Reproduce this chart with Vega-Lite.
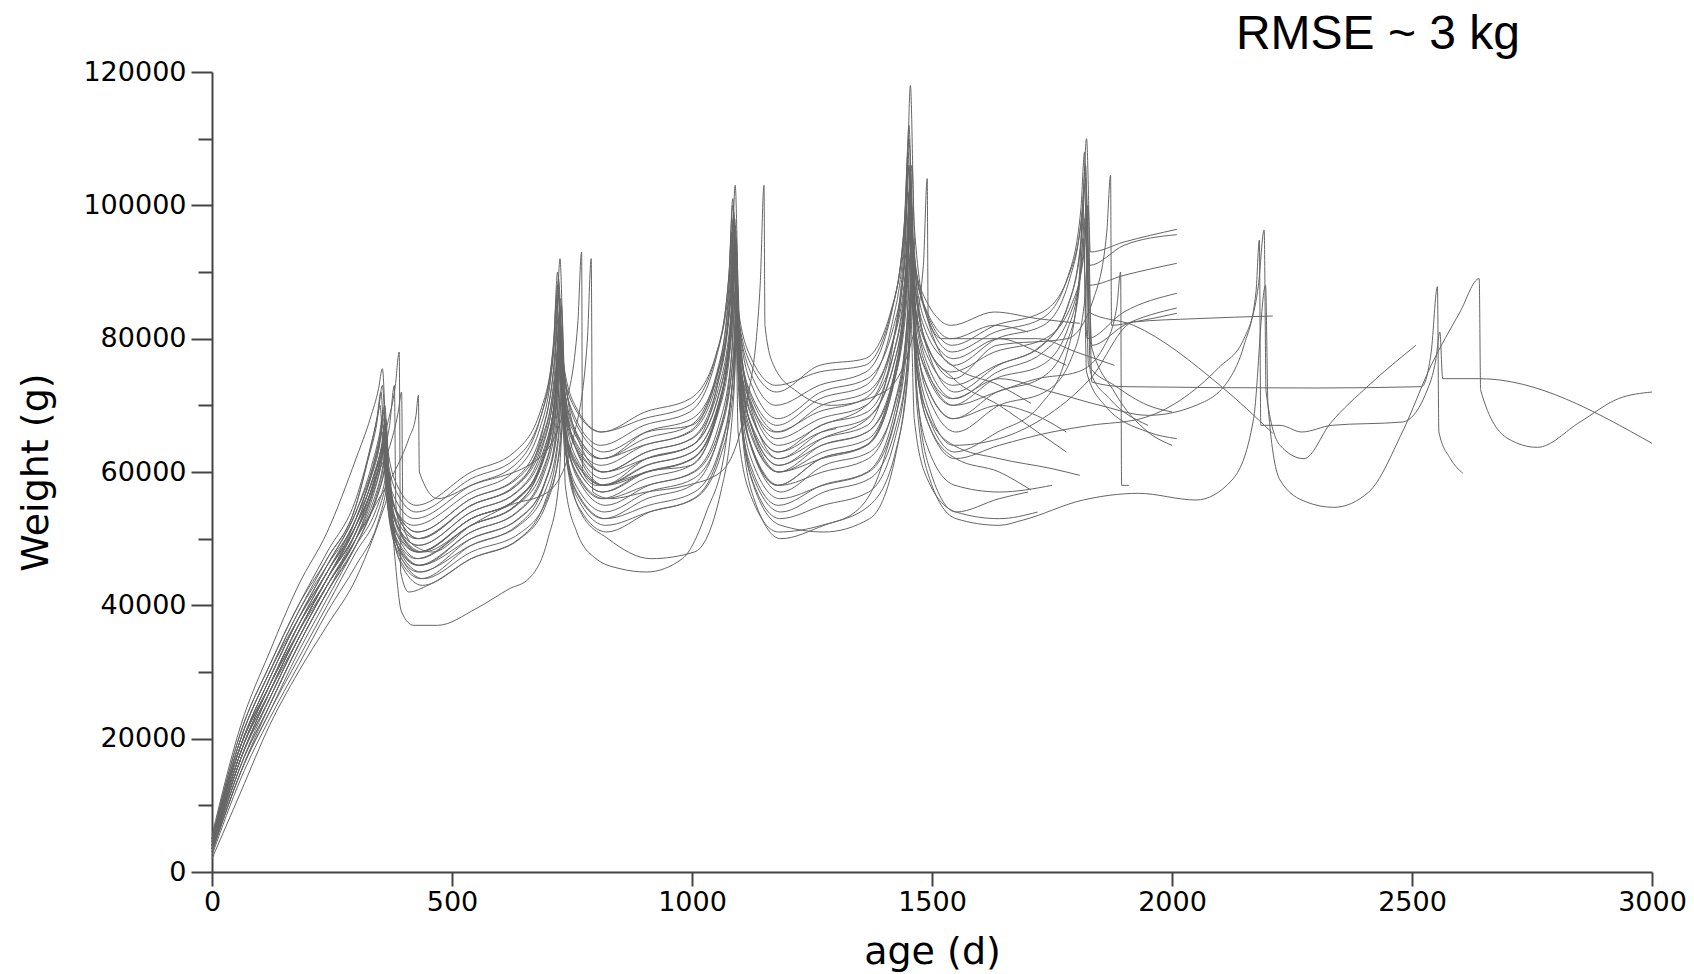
{
"$schema": "https://vega.github.io/schema/vega-lite/v6.json",
"width": 1440, "height": 800,
"autosize": {"type": "none"},
"padding": {"left": 212, "top": 72, "right": 42, "bottom": 102},
"background": "white",
"title": {"text": "RMSE ~ 3 kg", "anchor": "end", "frame": "group", "font": "Liberation Sans", "fontSize": 48, "fontWeight": "normal", "color": "black", "baseline": "bottom", "offset": 8, "dx": -132, "dy": 57},
"config": {"view": {"stroke": null}},
"data": {"values": [
{"id":1,"age":0,"weight":5500},{"id":1,"age":60,"weight":22000},{"id":1,"age":120,"weight":33000},{"id":1,"age":180,"weight":43000},{"id":1,"age":240,"weight":51000},{"id":1,"age":300,"weight":62000},{"id":1,"age":330,"weight":68100},{"id":1,"age":347,"weight":72500},{"id":1,"age":355,"weight":75500},{"id":1,"age":363,"weight":65300},{"id":1,"age":385,"weight":58100},{"id":1,"age":425,"weight":55000},{"id":1,"age":540,"weight":60000},{"id":1,"age":630,"weight":63000},{"id":1,"age":685,"weight":69300},{"id":1,"age":712,"weight":79300},{"id":1,"age":720,"weight":88000},{"id":1,"age":728,"weight":77000},{"id":1,"age":755,"weight":69700},{"id":1,"age":810,"weight":66000},{"id":1,"age":900,"weight":68000},{"id":1,"age":995,"weight":70000},{"id":1,"age":1050,"weight":77500},{"id":1,"age":1077,"weight":89500},{"id":1,"age":1085,"weight":100000},{"id":1,"age":1093,"weight":86500},{"id":1,"age":1120,"weight":77600},{"id":1,"age":1175,"weight":73000},{"id":1,"age":1265,"weight":75000},{"id":1,"age":1360,"weight":76000},{"id":1,"age":1415,"weight":84000},{"id":1,"age":1442,"weight":96800},{"id":1,"age":1450,"weight":108000},{"id":1,"age":1458,"weight":94000},{"id":1,"age":1485,"weight":84800},{"id":1,"age":1540,"weight":80000},{"id":1,"age":1630,"weight":82000},{"id":1,"age":1700,"weight":81000},
{"id":2,"age":0,"weight":4000},{"id":2,"age":60,"weight":18000},{"id":2,"age":120,"weight":28000},{"id":2,"age":180,"weight":37000},{"id":2,"age":240,"weight":44000},{"id":2,"age":300,"weight":53000},{"id":2,"age":335,"weight":60700},{"id":2,"age":352,"weight":66300},{"id":2,"age":360,"weight":70000},{"id":2,"age":368,"weight":60000},{"id":2,"age":390,"weight":53000},{"id":2,"age":430,"weight":50000},{"id":2,"age":540,"weight":55000},{"id":2,"age":635,"weight":58000},{"id":2,"age":690,"weight":66500},{"id":2,"age":717,"weight":80100},{"id":2,"age":725,"weight":92000},{"id":2,"age":733,"weight":76000},{"id":2,"age":760,"weight":65400},{"id":2,"age":815,"weight":60000},{"id":2,"age":905,"weight":62000},{"id":2,"age":1000,"weight":64000},{"id":2,"age":1055,"weight":73800},{"id":2,"age":1082,"weight":89400},{"id":2,"age":1090,"weight":103000},{"id":2,"age":1098,"weight":82500},{"id":2,"age":1125,"weight":69000},{"id":2,"age":1180,"weight":62000},{"id":2,"age":1270,"weight":65000},{"id":2,"age":1365,"weight":67000},{"id":2,"age":1420,"weight":79800},{"id":2,"age":1447,"weight":100200},{"id":2,"age":1455,"weight":118000},{"id":2,"age":1463,"weight":97000},{"id":2,"age":1490,"weight":83100},{"id":2,"age":1545,"weight":76000},{"id":2,"age":1635,"weight":80000},{"id":2,"age":1732,"weight":82000},{"id":2,"age":1787,"weight":89000},{"id":2,"age":1814,"weight":100200},{"id":2,"age":1822,"weight":110000},{"id":2,"age":1830,"weight":93000},{"id":2,"age":1900,"weight":94500},{"id":2,"age":2010,"weight":96400},
{"id":3,"age":0,"weight":3500},{"id":3,"age":60,"weight":17000},{"id":3,"age":120,"weight":26000},{"id":3,"age":180,"weight":35000},{"id":3,"age":240,"weight":43000},{"id":3,"age":300,"weight":51000},{"id":3,"age":337,"weight":58700},{"id":3,"age":354,"weight":64300},{"id":3,"age":362,"weight":68000},{"id":3,"age":370,"weight":58000},{"id":3,"age":392,"weight":51000},{"id":3,"age":432,"weight":48000},{"id":3,"age":540,"weight":53000},{"id":3,"age":638,"weight":56000},{"id":3,"age":693,"weight":63300},{"id":3,"age":720,"weight":74900},{"id":3,"age":728,"weight":85000},{"id":3,"age":736,"weight":71500},{"id":3,"age":763,"weight":62600},{"id":3,"age":818,"weight":58000},{"id":3,"age":908,"weight":60000},{"id":3,"age":1002,"weight":62000},{"id":3,"age":1057,"weight":70300},{"id":3,"age":1084,"weight":83500},{"id":3,"age":1092,"weight":95000},{"id":3,"age":1100,"weight":77500},{"id":3,"age":1127,"weight":66000},{"id":3,"age":1182,"weight":60000},{"id":3,"age":1272,"weight":63000},{"id":3,"age":1368,"weight":65000},{"id":3,"age":1423,"weight":75300},{"id":3,"age":1450,"weight":91700},{"id":3,"age":1458,"weight":106000},{"id":3,"age":1466,"weight":89000},{"id":3,"age":1493,"weight":77800},{"id":3,"age":1548,"weight":72000},{"id":3,"age":1638,"weight":76000},{"id":3,"age":1730,"weight":79000},{"id":3,"age":1785,"weight":85300},{"id":3,"age":1812,"weight":95300},{"id":3,"age":1820,"weight":104000},{"id":3,"age":1828,"weight":91000},{"id":3,"age":1900,"weight":94000},{"id":3,"age":2010,"weight":95600},
{"id":4,"age":0,"weight":4500},{"id":4,"age":60,"weight":19000},{"id":4,"age":120,"weight":29000},{"id":4,"age":180,"weight":38000},{"id":4,"age":240,"weight":45000},{"id":4,"age":300,"weight":53000},{"id":4,"age":330,"weight":58900},{"id":4,"age":347,"weight":63100},{"id":4,"age":355,"weight":66000},{"id":4,"age":363,"weight":56500},{"id":4,"age":385,"weight":49900},{"id":4,"age":425,"weight":47000},{"id":4,"age":540,"weight":52000},{"id":4,"age":632,"weight":55000},{"id":4,"age":687,"weight":61300},{"id":4,"age":714,"weight":71300},{"id":4,"age":722,"weight":80000},{"id":4,"age":730,"weight":68000},{"id":4,"age":757,"weight":60100},{"id":4,"age":812,"weight":56000},{"id":4,"age":902,"weight":59000},{"id":4,"age":998,"weight":61000},{"id":4,"age":1053,"weight":68800},{"id":4,"age":1080,"weight":81200},{"id":4,"age":1088,"weight":92000},{"id":4,"age":1096,"weight":75000},{"id":4,"age":1123,"weight":63800},{"id":4,"age":1178,"weight":58000},{"id":4,"age":1268,"weight":62000},{"id":4,"age":1362,"weight":64000},{"id":4,"age":1417,"weight":73000},{"id":4,"age":1444,"weight":87400},{"id":4,"age":1452,"weight":100000},{"id":4,"age":1460,"weight":85000},{"id":4,"age":1487,"weight":75100},{"id":4,"age":1542,"weight":70000},{"id":4,"age":1632,"weight":74000},{"id":4,"age":1728,"weight":76000},{"id":4,"age":1783,"weight":81500},{"id":4,"age":1810,"weight":90300},{"id":4,"age":1818,"weight":98000},{"id":4,"age":1826,"weight":88000},{"id":4,"age":1900,"weight":89500},{"id":4,"age":2010,"weight":91300},
{"id":5,"age":0,"weight":5000},{"id":5,"age":60,"weight":20000},{"id":5,"age":120,"weight":30000},{"id":5,"age":180,"weight":38000},{"id":5,"age":240,"weight":45000},{"id":5,"age":300,"weight":52000},{"id":5,"age":333,"weight":57400},{"id":5,"age":350,"weight":61400},{"id":5,"age":358,"weight":64000},{"id":5,"age":366,"weight":55000},{"id":5,"age":388,"weight":48700},{"id":5,"age":428,"weight":46000},{"id":5,"age":540,"weight":51000},{"id":5,"age":635,"weight":54000},{"id":5,"age":690,"weight":60000},{"id":5,"age":717,"weight":69600},{"id":5,"age":725,"weight":78000},{"id":5,"age":733,"weight":67500},{"id":5,"age":760,"weight":60600},{"id":5,"age":815,"weight":57000},{"id":5,"age":905,"weight":60000},{"id":5,"age":1000,"weight":62000},{"id":5,"age":1055,"weight":69000},{"id":5,"age":1082,"weight":80200},{"id":5,"age":1090,"weight":90000},{"id":5,"age":1098,"weight":75000},{"id":5,"age":1125,"weight":65100},{"id":5,"age":1180,"weight":60000},{"id":5,"age":1270,"weight":64000},{"id":5,"age":1365,"weight":66000},{"id":5,"age":1420,"weight":73500},{"id":5,"age":1447,"weight":85500},{"id":5,"age":1455,"weight":96000},{"id":5,"age":1463,"weight":82000},{"id":5,"age":1490,"weight":72800},{"id":5,"age":1545,"weight":68000},{"id":5,"age":1635,"weight":72000},{"id":5,"age":1725,"weight":74000},{"id":5,"age":1780,"weight":79300},{"id":5,"age":1807,"weight":87700},{"id":5,"age":1815,"weight":95000},{"id":5,"age":1823,"weight":80000},{"id":5,"age":1900,"weight":84000},{"id":5,"age":2010,"weight":86800},
{"id":6,"age":0,"weight":3000},{"id":6,"age":60,"weight":16000},{"id":6,"age":120,"weight":25000},{"id":6,"age":180,"weight":34000},{"id":6,"age":240,"weight":42000},{"id":6,"age":300,"weight":50000},{"id":6,"age":340,"weight":55400},{"id":6,"age":357,"weight":59400},{"id":6,"age":365,"weight":62000},{"id":6,"age":373,"weight":53500},{"id":6,"age":395,"weight":47600},{"id":6,"age":435,"weight":45000},{"id":6,"age":540,"weight":50000},{"id":6,"age":640,"weight":53000},{"id":6,"age":695,"weight":58800},{"id":6,"age":722,"weight":68000},{"id":6,"age":730,"weight":76000},{"id":6,"age":738,"weight":65500},{"id":6,"age":765,"weight":58600},{"id":6,"age":820,"weight":55000},{"id":6,"age":910,"weight":58000},{"id":6,"age":1005,"weight":60000},{"id":6,"age":1060,"weight":67000},{"id":6,"age":1087,"weight":78200},{"id":6,"age":1095,"weight":88000},{"id":6,"age":1103,"weight":72500},{"id":6,"age":1130,"weight":62300},{"id":6,"age":1185,"weight":57000},{"id":6,"age":1275,"weight":61000},{"id":6,"age":1370,"weight":63000},{"id":6,"age":1425,"weight":70800},{"id":6,"age":1452,"weight":83200},{"id":6,"age":1460,"weight":94000},{"id":6,"age":1468,"weight":80000},{"id":6,"age":1495,"weight":70800},{"id":6,"age":1550,"weight":66000},{"id":6,"age":1640,"weight":70000},{"id":6,"age":1735,"weight":72000},{"id":6,"age":1790,"weight":77000},{"id":6,"age":1817,"weight":85000},{"id":6,"age":1825,"weight":92000},{"id":6,"age":1833,"weight":79000},{"id":6,"age":1900,"weight":82000},{"id":6,"age":2010,"weight":84600},
{"id":7,"age":0,"weight":4000},{"id":7,"age":60,"weight":18000},{"id":7,"age":120,"weight":27000},{"id":7,"age":180,"weight":36000},{"id":7,"age":240,"weight":44000},{"id":7,"age":300,"weight":52000},{"id":7,"age":335,"weight":57900},{"id":7,"age":352,"weight":62100},{"id":7,"age":360,"weight":65000},{"id":7,"age":368,"weight":57000},{"id":7,"age":390,"weight":51400},{"id":7,"age":430,"weight":49000},{"id":7,"age":540,"weight":54000},{"id":7,"age":636,"weight":57000},{"id":7,"age":691,"weight":63300},{"id":7,"age":718,"weight":73300},{"id":7,"age":726,"weight":82000},{"id":7,"age":734,"weight":71000},{"id":7,"age":761,"weight":63700},{"id":7,"age":816,"weight":60000},{"id":7,"age":906,"weight":63000},{"id":7,"age":998,"weight":65000},{"id":7,"age":1053,"weight":73000},{"id":7,"age":1080,"weight":85800},{"id":7,"age":1088,"weight":97000},{"id":7,"age":1096,"weight":80000},{"id":7,"age":1123,"weight":68800},{"id":7,"age":1178,"weight":63000},{"id":7,"age":1268,"weight":67000},{"id":7,"age":1365,"weight":69000},{"id":7,"age":1420,"weight":77800},{"id":7,"age":1447,"weight":91800},{"id":7,"age":1455,"weight":104000},{"id":7,"age":1463,"weight":89000},{"id":7,"age":1490,"weight":79100},{"id":7,"age":1545,"weight":74000},{"id":7,"age":1635,"weight":79000},{"id":7,"age":1782,"weight":80000},{"id":7,"age":1837,"weight":86100},{"id":7,"age":1864,"weight":95900},{"id":7,"age":1872,"weight":104500},{"id":7,"age":1874,"weight":82000},{"id":7,"age":1920,"weight":82500},{"id":7,"age":2010,"weight":83800},
{"id":8,"age":0,"weight":2500},{"id":8,"age":60,"weight":14000},{"id":8,"age":120,"weight":23000},{"id":8,"age":180,"weight":31000},{"id":8,"age":240,"weight":39000},{"id":8,"age":300,"weight":46000},{"id":8,"age":345,"weight":52300},{"id":8,"age":362,"weight":56900},{"id":8,"age":370,"weight":60000},{"id":8,"age":378,"weight":52000},{"id":8,"age":400,"weight":46400},{"id":8,"age":440,"weight":44000},{"id":8,"age":540,"weight":48000},{"id":8,"age":645,"weight":51000},{"id":8,"age":700,"weight":56300},{"id":8,"age":727,"weight":64700},{"id":8,"age":735,"weight":72000},{"id":8,"age":743,"weight":61000},{"id":8,"age":770,"weight":53700},{"id":8,"age":825,"weight":50000},{"id":8,"age":915,"weight":47000},{"id":8,"age":1005,"weight":48000},{"id":8,"age":1060,"weight":57000},{"id":8,"age":1087,"weight":71400},{"id":8,"age":1095,"weight":84000},{"id":8,"age":1103,"weight":67000},{"id":8,"age":1130,"weight":55800},{"id":8,"age":1185,"weight":50000},{"id":8,"age":1275,"weight":52000},{"id":8,"age":1370,"weight":55000},{"id":8,"age":1425,"weight":63300},{"id":8,"age":1452,"weight":76500},{"id":8,"age":1460,"weight":88000},{"id":8,"age":1468,"weight":70500},{"id":8,"age":1495,"weight":59000},{"id":8,"age":1550,"weight":53000},{"id":8,"age":1640,"weight":52000},{"id":8,"age":1690,"weight":52800},{"id":8,"age":1815,"weight":55800},{"id":8,"age":1930,"weight":56800},{"id":8,"age":2050,"weight":55800},{"id":8,"age":2125,"weight":58800},{"id":8,"age":2170,"weight":68000},{"id":8,"age":2195,"weight":88000},{"id":8,"age":2200,"weight":70000},{"id":8,"age":2225,"weight":58800},{"id":8,"age":2280,"weight":55500},{"id":8,"age":2337,"weight":54700},{"id":8,"age":2410,"weight":57000},{"id":8,"age":2480,"weight":66000},{"id":8,"age":2540,"weight":76000},{"id":8,"age":2600,"weight":84000},{"id":8,"age":2640,"weight":89000},{"id":8,"age":2643,"weight":72300},{"id":8,"age":2700,"weight":65000},{"id":8,"age":2761,"weight":63700},{"id":8,"age":2850,"weight":67500},{"id":8,"age":2930,"weight":71000},{"id":8,"age":3000,"weight":72000},
{"id":9,"age":0,"weight":4000},{"id":9,"age":60,"weight":17000},{"id":9,"age":120,"weight":27000},{"id":9,"age":180,"weight":36000},{"id":9,"age":240,"weight":44000},{"id":9,"age":300,"weight":51000},{"id":9,"age":333,"weight":56400},{"id":9,"age":350,"weight":60400},{"id":9,"age":358,"weight":63000},{"id":9,"age":366,"weight":55500},{"id":9,"age":388,"weight":50300},{"id":9,"age":428,"weight":48000},{"id":9,"age":540,"weight":53000},{"id":9,"age":634,"weight":56000},{"id":9,"age":689,"weight":61800},{"id":9,"age":716,"weight":71000},{"id":9,"age":724,"weight":79000},{"id":9,"age":732,"weight":68500},{"id":9,"age":759,"weight":61600},{"id":9,"age":814,"weight":58000},{"id":9,"age":904,"weight":61000},{"id":9,"age":1000,"weight":63000},{"id":9,"age":1055,"weight":70000},{"id":9,"age":1082,"weight":81200},{"id":9,"age":1090,"weight":91000},{"id":9,"age":1098,"weight":76500},{"id":9,"age":1125,"weight":66900},{"id":9,"age":1180,"weight":62000},{"id":9,"age":1270,"weight":66000},{"id":9,"age":1362,"weight":68000},{"id":9,"age":1417,"weight":75300},{"id":9,"age":1444,"weight":86900},{"id":9,"age":1452,"weight":97000},{"id":9,"age":1460,"weight":84000},{"id":9,"age":1487,"weight":75400},{"id":9,"age":1542,"weight":71000},{"id":9,"age":1640,"weight":74000},{"id":9,"age":1750,"weight":72000},{"id":9,"age":1850,"weight":70000},{"id":9,"age":1950,"weight":68500},{"id":9,"age":2050,"weight":70000},{"id":9,"age":2120,"weight":74000},{"id":9,"age":2150,"weight":79000},{"id":9,"age":2175,"weight":87000},{"id":9,"age":2182,"weight":94800},{"id":9,"age":2185,"weight":67000},{"id":9,"age":2225,"weight":67000},{"id":9,"age":2270,"weight":66000},{"id":9,"age":2333,"weight":67000},{"id":9,"age":2480,"weight":67500},{"id":9,"age":2530,"weight":72000},{"id":9,"age":2550,"weight":77000},{"id":9,"age":2558,"weight":81000},{"id":9,"age":2564,"weight":74000},{"id":9,"age":2640,"weight":74000},{"id":9,"age":3000,"weight":64300},
{"id":10,"age":0,"weight":5000},{"id":10,"age":60,"weight":21000},{"id":10,"age":120,"weight":31000},{"id":10,"age":180,"weight":40000},{"id":10,"age":240,"weight":47000},{"id":10,"age":300,"weight":55000},{"id":10,"age":325,"weight":61800},{"id":10,"age":342,"weight":66700},{"id":10,"age":350,"weight":70000},{"id":10,"age":358,"weight":61000},{"id":10,"age":380,"weight":54700},{"id":10,"age":420,"weight":52000},{"id":10,"age":540,"weight":57000},{"id":10,"age":628,"weight":60000},{"id":10,"age":683,"weight":66500},{"id":10,"age":710,"weight":76900},{"id":10,"age":718,"weight":86000},{"id":10,"age":726,"weight":74000},{"id":10,"age":753,"weight":66100},{"id":10,"age":808,"weight":62000},{"id":10,"age":898,"weight":64000},{"id":10,"age":993,"weight":66000},{"id":10,"age":1048,"weight":73500},{"id":10,"age":1075,"weight":85500},{"id":10,"age":1083,"weight":96000},{"id":10,"age":1091,"weight":81000},{"id":10,"age":1118,"weight":71100},{"id":10,"age":1173,"weight":66000},{"id":10,"age":1263,"weight":69000},{"id":10,"age":1360,"weight":71000},{"id":10,"age":1415,"weight":78800},{"id":10,"age":1442,"weight":91200},{"id":10,"age":1450,"weight":102000},{"id":10,"age":1458,"weight":88500},{"id":10,"age":1485,"weight":79600},{"id":10,"age":1540,"weight":75000},{"id":10,"age":1630,"weight":78000},{"id":10,"age":1735,"weight":80000},{"id":10,"age":1790,"weight":85000},{"id":10,"age":1817,"weight":93000},{"id":10,"age":1825,"weight":100000},{"id":10,"age":1833,"weight":73500},{"id":10,"age":1900,"weight":72800},{"id":10,"age":2300,"weight":72600},{"id":10,"age":2520,"weight":72800},{"id":10,"age":2540,"weight":78000},{"id":10,"age":2553,"weight":87800},{"id":10,"age":2556,"weight":66000},{"id":10,"age":2580,"weight":62000},{"id":10,"age":2606,"weight":59800},
{"id":11,"age":0,"weight":3500},{"id":11,"age":60,"weight":16000},{"id":11,"age":120,"weight":26000},{"id":11,"age":180,"weight":35000},{"id":11,"age":240,"weight":43000},{"id":11,"age":300,"weight":50000},{"id":11,"age":337,"weight":55000},{"id":11,"age":354,"weight":58600},{"id":11,"age":362,"weight":61000},{"id":11,"age":370,"weight":53500},{"id":11,"age":392,"weight":48300},{"id":11,"age":432,"weight":46000},{"id":11,"age":540,"weight":50000},{"id":11,"age":638,"weight":53000},{"id":11,"age":693,"weight":58300},{"id":11,"age":720,"weight":66700},{"id":11,"age":728,"weight":74000},{"id":11,"age":736,"weight":64000},{"id":11,"age":763,"weight":57400},{"id":11,"age":818,"weight":54000},{"id":11,"age":908,"weight":57000},{"id":11,"age":1003,"weight":59000},{"id":11,"age":1058,"weight":65800},{"id":11,"age":1085,"weight":76600},{"id":11,"age":1093,"weight":86000},{"id":11,"age":1101,"weight":71000},{"id":11,"age":1128,"weight":61100},{"id":11,"age":1183,"weight":56000},{"id":11,"age":1273,"weight":58000},{"id":11,"age":1368,"weight":60000},{"id":11,"age":1423,"weight":68000},{"id":11,"age":1450,"weight":80800},{"id":11,"age":1458,"weight":92000},{"id":11,"age":1466,"weight":77000},{"id":11,"age":1493,"weight":67100},{"id":11,"age":1548,"weight":62000},{"id":11,"age":1640,"weight":64000},{"id":11,"age":1750,"weight":66000},{"id":11,"age":1830,"weight":67000},{"id":11,"age":1935,"weight":68000},{"id":11,"age":2098,"weight":75700},{"id":11,"age":2150,"weight":80000},{"id":11,"age":2180,"weight":88000},{"id":11,"age":2192,"weight":96300},{"id":11,"age":2196,"weight":72000},{"id":11,"age":2225,"weight":64000},{"id":11,"age":2275,"weight":62000},{"id":11,"age":2330,"weight":67300},{"id":11,"age":2410,"weight":73000},{"id":11,"age":2508,"weight":79000},
{"id":12,"age":0,"weight":4000},{"id":12,"age":60,"weight":18000},{"id":12,"age":120,"weight":28000},{"id":12,"age":180,"weight":37000},{"id":12,"age":240,"weight":45000},{"id":12,"age":300,"weight":53000},{"id":12,"age":337,"weight":59300},{"id":12,"age":354,"weight":63900},{"id":12,"age":362,"weight":67000},{"id":12,"age":370,"weight":58500},{"id":12,"age":392,"weight":52600},{"id":12,"age":432,"weight":50000},{"id":12,"age":540,"weight":55000},{"id":12,"age":635,"weight":58000},{"id":12,"age":690,"weight":64500},{"id":12,"age":717,"weight":74900},{"id":12,"age":725,"weight":84000},{"id":12,"age":733,"weight":71500},{"id":12,"age":760,"weight":63300},{"id":12,"age":815,"weight":59000},{"id":12,"age":905,"weight":62000},{"id":12,"age":1000,"weight":64000},{"id":12,"age":1055,"weight":71500},{"id":12,"age":1082,"weight":83500},{"id":12,"age":1090,"weight":94000},{"id":12,"age":1098,"weight":77500},{"id":12,"age":1125,"weight":66600},{"id":12,"age":1180,"weight":61000},{"id":12,"age":1270,"weight":64000},{"id":12,"age":1365,"weight":66000},{"id":12,"age":1420,"weight":74300},{"id":12,"age":1447,"weight":87500},{"id":12,"age":1455,"weight":99000},{"id":12,"age":1463,"weight":81500},{"id":12,"age":1490,"weight":70000},{"id":12,"age":1545,"weight":64000},{"id":12,"age":1640,"weight":65000},{"id":12,"age":1730,"weight":68000},{"id":12,"age":1830,"weight":74000},{"id":12,"age":1920,"weight":82500},{"id":12,"age":2050,"weight":83000},{"id":12,"age":2210,"weight":83400},
{"id":13,"age":0,"weight":3000},{"id":13,"age":60,"weight":15000},{"id":13,"age":120,"weight":24000},{"id":13,"age":180,"weight":32000},{"id":13,"age":240,"weight":40000},{"id":13,"age":300,"weight":48000},{"id":13,"age":343,"weight":53400},{"id":13,"age":360,"weight":57400},{"id":13,"age":368,"weight":60000},{"id":13,"age":376,"weight":51500},{"id":13,"age":398,"weight":45600},{"id":13,"age":438,"weight":43000},{"id":13,"age":540,"weight":47000},{"id":13,"age":642,"weight":50000},{"id":13,"age":697,"weight":55300},{"id":13,"age":724,"weight":63700},{"id":13,"age":732,"weight":71000},{"id":13,"age":740,"weight":61000},{"id":13,"age":767,"weight":54400},{"id":13,"age":822,"weight":51000},{"id":13,"age":912,"weight":54000},{"id":13,"age":1005,"weight":56000},{"id":13,"age":1060,"weight":62500},{"id":13,"age":1087,"weight":72900},{"id":13,"age":1095,"weight":82000},{"id":13,"age":1103,"weight":68000},{"id":13,"age":1130,"weight":58800},{"id":13,"age":1185,"weight":54000},{"id":13,"age":1275,"weight":57000},{"id":13,"age":1370,"weight":59000},{"id":13,"age":1425,"weight":66800},{"id":13,"age":1452,"weight":79200},{"id":13,"age":1460,"weight":90000},{"id":13,"age":1468,"weight":76000},{"id":13,"age":1495,"weight":66800},{"id":13,"age":1550,"weight":62000},{"id":13,"age":1640,"weight":60000},{"id":13,"age":1706,"weight":57300},
{"id":14,"age":0,"weight":4500},{"id":14,"age":60,"weight":19000},{"id":14,"age":120,"weight":29000},{"id":14,"age":180,"weight":38000},{"id":14,"age":240,"weight":46000},{"id":14,"age":300,"weight":54000},{"id":14,"age":332,"weight":60800},{"id":14,"age":349,"weight":65700},{"id":14,"age":357,"weight":69000},{"id":14,"age":365,"weight":60000},{"id":14,"age":387,"weight":53700},{"id":14,"age":427,"weight":51000},{"id":14,"age":540,"weight":56000},{"id":14,"age":632,"weight":59000},{"id":14,"age":687,"weight":66000},{"id":14,"age":714,"weight":77200},{"id":14,"age":722,"weight":87000},{"id":14,"age":730,"weight":74500},{"id":14,"age":757,"weight":66300},{"id":14,"age":812,"weight":62000},{"id":14,"age":902,"weight":65000},{"id":14,"age":997,"weight":67000},{"id":14,"age":1052,"weight":75000},{"id":14,"age":1079,"weight":87800},{"id":14,"age":1087,"weight":99000},{"id":14,"age":1095,"weight":82000},{"id":14,"age":1122,"weight":70800},{"id":14,"age":1177,"weight":65000},{"id":14,"age":1267,"weight":68000},{"id":14,"age":1362,"weight":70000},{"id":14,"age":1417,"weight":79000},{"id":14,"age":1444,"weight":93400},{"id":14,"age":1452,"weight":106000},{"id":14,"age":1460,"weight":91000},{"id":14,"age":1487,"weight":81100},{"id":14,"age":1542,"weight":76000},{"id":14,"age":1640,"weight":73000},{"id":14,"age":1706,"weight":70300},
{"id":15,"age":0,"weight":5000},{"id":15,"age":60,"weight":19000},{"id":15,"age":120,"weight":28000},{"id":15,"age":180,"weight":36000},{"id":15,"age":240,"weight":43000},{"id":15,"age":300,"weight":50000},{"id":15,"age":335,"weight":55400},{"id":15,"age":352,"weight":59400},{"id":15,"age":360,"weight":62000},{"id":15,"age":368,"weight":53500},{"id":15,"age":390,"weight":47600},{"id":15,"age":430,"weight":45000},{"id":15,"age":540,"weight":49000},{"id":15,"age":636,"weight":52000},{"id":15,"age":691,"weight":57800},{"id":15,"age":718,"weight":67000},{"id":15,"age":726,"weight":75000},{"id":15,"age":734,"weight":64000},{"id":15,"age":761,"weight":56700},{"id":15,"age":816,"weight":53000},{"id":15,"age":906,"weight":56000},{"id":15,"age":1000,"weight":58000},{"id":15,"age":1055,"weight":65300},{"id":15,"age":1082,"weight":76900},{"id":15,"age":1090,"weight":87000},{"id":15,"age":1098,"weight":71000},{"id":15,"age":1125,"weight":60400},{"id":15,"age":1180,"weight":55000},{"id":15,"age":1270,"weight":58000},{"id":15,"age":1365,"weight":60000},{"id":15,"age":1420,"weight":68300},{"id":15,"age":1447,"weight":81500},{"id":15,"age":1455,"weight":93000},{"id":15,"age":1463,"weight":78500},{"id":15,"age":1490,"weight":68900},{"id":15,"age":1545,"weight":64000},{"id":15,"age":1640,"weight":62000},{"id":15,"age":1750,"weight":60500},{"id":15,"age":1808,"weight":59500},
{"id":16,"age":0,"weight":4000},{"id":16,"age":60,"weight":17000},{"id":16,"age":120,"weight":27000},{"id":16,"age":180,"weight":36000},{"id":16,"age":240,"weight":44000},{"id":16,"age":300,"weight":52000},{"id":16,"age":330,"weight":58000},{"id":16,"age":365,"weight":67000},{"id":16,"age":382,"weight":73000},{"id":16,"age":390,"weight":78000},{"id":16,"age":393,"weight":45000},{"id":16,"age":410,"weight":42000},{"id":16,"age":450,"weight":43000},{"id":16,"age":540,"weight":47000},{"id":16,"age":640,"weight":50000},{"id":16,"age":695,"weight":55800},{"id":16,"age":722,"weight":65000},{"id":16,"age":730,"weight":73000},{"id":16,"age":738,"weight":62500},{"id":16,"age":765,"weight":55600},{"id":16,"age":820,"weight":52000},{"id":16,"age":910,"weight":54000},{"id":16,"age":1003,"weight":56000},{"id":16,"age":1058,"weight":63000},{"id":16,"age":1085,"weight":74200},{"id":16,"age":1093,"weight":84000},{"id":16,"age":1101,"weight":68500},{"id":16,"age":1128,"weight":58300},{"id":16,"age":1183,"weight":53000},{"id":16,"age":1273,"weight":55000},{"id":16,"age":1368,"weight":57000},{"id":16,"age":1423,"weight":65000},{"id":16,"age":1450,"weight":77800},{"id":16,"age":1458,"weight":89000},{"id":16,"age":1466,"weight":73500},{"id":16,"age":1493,"weight":63300},{"id":16,"age":1548,"weight":58000},{"id":16,"age":1640,"weight":57000},{"id":16,"age":1750,"weight":58000},
{"id":17,"age":0,"weight":3000},{"id":17,"age":60,"weight":15000},{"id":17,"age":120,"weight":24000},{"id":17,"age":180,"weight":33000},{"id":17,"age":240,"weight":41000},{"id":17,"age":300,"weight":49000},{"id":17,"age":340,"weight":55000},{"id":17,"age":380,"weight":60000},{"id":17,"age":410,"weight":65000},{"id":17,"age":425,"weight":68500},{"id":17,"age":430,"weight":71500},{"id":17,"age":432,"weight":60000},{"id":17,"age":470,"weight":56000},{"id":17,"age":540,"weight":58000},{"id":17,"age":680,"weight":62000},{"id":17,"age":735,"weight":69800},{"id":17,"age":762,"weight":82200},{"id":17,"age":770,"weight":93000},{"id":17,"age":772,"weight":60000},{"id":17,"age":800,"weight":58000},{"id":17,"age":905,"weight":60000},{"id":17,"age":1000,"weight":62000},{"id":17,"age":1055,"weight":69800},{"id":17,"age":1082,"weight":82200},{"id":17,"age":1090,"weight":93000},{"id":17,"age":1098,"weight":76500},{"id":17,"age":1125,"weight":65600},{"id":17,"age":1180,"weight":60000},{"id":17,"age":1270,"weight":62000},{"id":17,"age":1365,"weight":64000},{"id":17,"age":1420,"weight":73300},{"id":17,"age":1447,"weight":88000},{"id":17,"age":1455,"weight":101000},{"id":17,"age":1463,"weight":85500},{"id":17,"age":1490,"weight":75300},{"id":17,"age":1545,"weight":70000},{"id":17,"age":1635,"weight":72000},{"id":17,"age":1720,"weight":74000},{"id":17,"age":1803,"weight":75000},{"id":17,"age":1858,"weight":78800},{"id":17,"age":1885,"weight":84800},{"id":17,"age":1893,"weight":90000},{"id":17,"age":1895,"weight":58000},{"id":17,"age":1910,"weight":58000},
{"id":18,"age":0,"weight":4000},{"id":18,"age":60,"weight":18000},{"id":18,"age":120,"weight":28000},{"id":18,"age":180,"weight":36000},{"id":18,"age":240,"weight":44000},{"id":18,"age":300,"weight":51000},{"id":18,"age":340,"weight":59000},{"id":18,"age":375,"weight":65000},{"id":18,"age":388,"weight":69000},{"id":18,"age":395,"weight":72000},{"id":18,"age":398,"weight":52000},{"id":18,"age":420,"weight":49000},{"id":18,"age":460,"weight":48000},{"id":18,"age":540,"weight":52000},{"id":18,"age":620,"weight":55000},{"id":18,"age":700,"weight":57000},{"id":18,"age":755,"weight":65800},{"id":18,"age":782,"weight":79800},{"id":18,"age":790,"weight":92000},{"id":18,"age":793,"weight":57000},{"id":18,"age":830,"weight":56000},{"id":18,"age":905,"weight":57000},{"id":18,"age":990,"weight":58000},{"id":18,"age":1060,"weight":60000},{"id":18,"age":1115,"weight":70800},{"id":18,"age":1142,"weight":88000},{"id":18,"age":1150,"weight":103000},{"id":18,"age":1152,"weight":82000},{"id":18,"age":1170,"weight":76000},{"id":18,"age":1220,"weight":72000},{"id":18,"age":1290,"weight":70000},{"id":18,"age":1400,"weight":72000},{"id":18,"age":1455,"weight":79000},{"id":18,"age":1482,"weight":91000},{"id":18,"age":1490,"weight":104000},{"id":18,"age":1492,"weight":83000},{"id":18,"age":1520,"weight":80000},{"id":18,"age":1620,"weight":80000},{"id":18,"age":1720,"weight":80000},{"id":18,"age":1800,"weight":78000},{"id":18,"age":1880,"weight":76000},
{"id":19,"age":0,"weight":2000},{"id":19,"age":60,"weight":12000},{"id":19,"age":120,"weight":22000},{"id":19,"age":180,"weight":30000},{"id":19,"age":240,"weight":37000},{"id":19,"age":300,"weight":44000},{"id":19,"age":335,"weight":50000},{"id":19,"age":360,"weight":55000},{"id":19,"age":370,"weight":57000},{"id":19,"age":380,"weight":48000},{"id":19,"age":395,"weight":39000},{"id":19,"age":420,"weight":37000},{"id":19,"age":470,"weight":37000},{"id":19,"age":550,"weight":39500},{"id":19,"age":620,"weight":42500},{"id":19,"age":660,"weight":44000},{"id":19,"age":700,"weight":50000},{"id":19,"age":722,"weight":58000},{"id":19,"age":732,"weight":68000},{"id":19,"age":736,"weight":58000},{"id":19,"age":760,"weight":51000},{"id":19,"age":800,"weight":47000},{"id":19,"age":850,"weight":45500},{"id":19,"age":905,"weight":45000},{"id":19,"age":980,"weight":47000},{"id":19,"age":1030,"weight":54000},{"id":19,"age":1070,"weight":64000},{"id":19,"age":1085,"weight":74000},{"id":19,"age":1092,"weight":80000},{"id":19,"age":1096,"weight":66000},{"id":19,"age":1125,"weight":56000},{"id":19,"age":1180,"weight":51000},{"id":19,"age":1270,"weight":52000},{"id":19,"age":1340,"weight":54000},{"id":19,"age":1400,"weight":62000},{"id":19,"age":1440,"weight":75000},{"id":19,"age":1455,"weight":85000},{"id":19,"age":1463,"weight":68000},{"id":19,"age":1490,"weight":59000},{"id":19,"age":1550,"weight":54000},{"id":19,"age":1640,"weight":53000},{"id":19,"age":1720,"weight":54000},
{"id":20,"age":0,"weight":5000},{"id":20,"age":60,"weight":20000},{"id":20,"age":120,"weight":30000},{"id":20,"age":180,"weight":39000},{"id":20,"age":240,"weight":47000},{"id":20,"age":300,"weight":55000},{"id":20,"age":327,"weight":62700},{"id":20,"age":344,"weight":68300},{"id":20,"age":352,"weight":72000},{"id":20,"age":360,"weight":62500},{"id":20,"age":382,"weight":55900},{"id":20,"age":422,"weight":53000},{"id":20,"age":540,"weight":58000},{"id":20,"age":630,"weight":61000},{"id":20,"age":685,"weight":68300},{"id":20,"age":712,"weight":79900},{"id":20,"age":720,"weight":90000},{"id":20,"age":728,"weight":77000},{"id":20,"age":755,"weight":68400},{"id":20,"age":810,"weight":64000},{"id":20,"age":900,"weight":67000},{"id":20,"age":995,"weight":69000},{"id":20,"age":1050,"weight":77000},{"id":20,"age":1077,"weight":89800},{"id":20,"age":1085,"weight":101000},{"id":20,"age":1093,"weight":85500},{"id":20,"age":1120,"weight":75300},{"id":20,"age":1175,"weight":70000},{"id":20,"age":1265,"weight":73000},{"id":20,"age":1362,"weight":75000},{"id":20,"age":1417,"weight":84300},{"id":20,"age":1444,"weight":99000},{"id":20,"age":1452,"weight":112000},{"id":20,"age":1460,"weight":95000},{"id":20,"age":1487,"weight":83800},{"id":20,"age":1542,"weight":78000},{"id":20,"age":1632,"weight":81000},{"id":20,"age":1728,"weight":83000},{"id":20,"age":1783,"weight":89300},{"id":20,"age":1810,"weight":99300},{"id":20,"age":1818,"weight":108000},{"id":20,"age":1826,"weight":84000},{"id":20,"age":1920,"weight":82000},{"id":20,"age":2100,"weight":73000},{"id":20,"age":2210,"weight":65800},
{"id":21,"age":0,"weight":3500},{"id":21,"age":60,"weight":16000},{"id":21,"age":120,"weight":25000},{"id":21,"age":180,"weight":34000},{"id":21,"age":240,"weight":42000},{"id":21,"age":300,"weight":49000},{"id":21,"age":338,"weight":55300},{"id":21,"age":355,"weight":59900},{"id":21,"age":363,"weight":63000},{"id":21,"age":371,"weight":54500},{"id":21,"age":393,"weight":48600},{"id":21,"age":433,"weight":46000},{"id":21,"age":540,"weight":51000},{"id":21,"age":637,"weight":54000},{"id":21,"age":692,"weight":59800},{"id":21,"age":719,"weight":69000},{"id":21,"age":727,"weight":77000},{"id":21,"age":735,"weight":66500},{"id":21,"age":762,"weight":59600},{"id":21,"age":817,"weight":56000},{"id":21,"age":907,"weight":58000},{"id":21,"age":1002,"weight":60000},{"id":21,"age":1057,"weight":67300},{"id":21,"age":1084,"weight":78900},{"id":21,"age":1092,"weight":89000},{"id":21,"age":1100,"weight":73500},{"id":21,"age":1127,"weight":63300},{"id":21,"age":1182,"weight":58000},{"id":21,"age":1272,"weight":60000},{"id":21,"age":1367,"weight":62000},{"id":21,"age":1422,"weight":70300},{"id":21,"age":1449,"weight":83500},{"id":21,"age":1457,"weight":95000},{"id":21,"age":1465,"weight":79000},{"id":21,"age":1492,"weight":68400},{"id":21,"age":1547,"weight":63000},{"id":21,"age":1637,"weight":66000},{"id":21,"age":1725,"weight":70000},{"id":21,"age":1780,"weight":77500},{"id":21,"age":1807,"weight":89500},{"id":21,"age":1815,"weight":100000},{"id":21,"age":1822,"weight":75000},{"id":21,"age":1860,"weight":70000},{"id":21,"age":1950,"weight":66000},{"id":21,"age":2010,"weight":65000},
{"id":22,"age":0,"weight":4000},{"id":22,"age":60,"weight":17000},{"id":22,"age":120,"weight":26000},{"id":22,"age":180,"weight":35000},{"id":22,"age":240,"weight":43000},{"id":22,"age":300,"weight":50000},{"id":22,"age":335,"weight":57200},{"id":22,"age":352,"weight":62500},{"id":22,"age":360,"weight":66000},{"id":22,"age":368,"weight":56500},{"id":22,"age":390,"weight":49900},{"id":22,"age":430,"weight":47000},{"id":22,"age":540,"weight":52000},{"id":22,"age":633,"weight":55000},{"id":22,"age":688,"weight":61500},{"id":22,"age":715,"weight":71900},{"id":22,"age":723,"weight":81000},{"id":22,"age":731,"weight":69000},{"id":22,"age":758,"weight":61100},{"id":22,"age":813,"weight":57000},{"id":22,"age":903,"weight":60000},{"id":22,"age":998,"weight":61000},{"id":22,"age":1053,"weight":69000},{"id":22,"age":1080,"weight":81800},{"id":22,"age":1088,"weight":93000},{"id":22,"age":1096,"weight":75500},{"id":22,"age":1123,"weight":64000},{"id":22,"age":1178,"weight":58000},{"id":22,"age":1268,"weight":62000},{"id":22,"age":1363,"weight":64000},{"id":22,"age":1418,"weight":72500},{"id":22,"age":1445,"weight":86100},{"id":22,"age":1453,"weight":98000},{"id":22,"age":1461,"weight":83000},{"id":22,"age":1488,"weight":73100},{"id":22,"age":1543,"weight":68000},{"id":22,"age":1640,"weight":70000},{"id":22,"age":1700,"weight":69000},{"id":22,"age":1780,"weight":66000},
{"id":23,"age":0,"weight":5000},{"id":23,"age":60,"weight":21000},{"id":23,"age":120,"weight":31000},{"id":23,"age":180,"weight":40000},{"id":23,"age":240,"weight":48000},{"id":23,"age":300,"weight":56000},{"id":23,"age":330,"weight":63700},{"id":23,"age":347,"weight":69300},{"id":23,"age":355,"weight":73000},{"id":23,"age":363,"weight":63500},{"id":23,"age":385,"weight":56900},{"id":23,"age":425,"weight":54000},{"id":23,"age":540,"weight":59000},{"id":23,"age":632,"weight":62000},{"id":23,"age":687,"weight":68800},{"id":23,"age":714,"weight":79600},{"id":23,"age":722,"weight":89000},{"id":23,"age":730,"weight":77500},{"id":23,"age":757,"weight":69900},{"id":23,"age":812,"weight":66000},{"id":23,"age":902,"weight":69000},{"id":23,"age":996,"weight":71000},{"id":23,"age":1051,"weight":77800},{"id":23,"age":1078,"weight":88600},{"id":23,"age":1086,"weight":98000},{"id":23,"age":1094,"weight":85000},{"id":23,"age":1121,"weight":76400},{"id":23,"age":1176,"weight":72000},{"id":23,"age":1266,"weight":76000},{"id":23,"age":1360,"weight":77000},{"id":23,"age":1415,"weight":84300},{"id":23,"age":1442,"weight":95900},{"id":23,"age":1450,"weight":106000},{"id":23,"age":1458,"weight":94000},{"id":23,"age":1485,"weight":86100},{"id":23,"age":1540,"weight":82000},{"id":23,"age":1630,"weight":84000},{"id":23,"age":1720,"weight":83000},{"id":23,"age":1808,"weight":82300},
{"id":24,"age":0,"weight":4000},{"id":24,"age":60,"weight":18000},{"id":24,"age":120,"weight":27000},{"id":24,"age":180,"weight":35000},{"id":24,"age":240,"weight":43000},{"id":24,"age":300,"weight":50000},{"id":24,"age":335,"weight":56300},{"id":24,"age":352,"weight":60900},{"id":24,"age":360,"weight":64000},{"id":24,"age":368,"weight":56000},{"id":24,"age":390,"weight":50400},{"id":24,"age":430,"weight":48000},{"id":24,"age":540,"weight":53000},{"id":24,"age":635,"weight":56000},{"id":24,"age":690,"weight":62000},{"id":24,"age":717,"weight":71600},{"id":24,"age":725,"weight":80000},{"id":24,"age":733,"weight":70000},{"id":24,"age":760,"weight":63400},{"id":24,"age":815,"weight":60000},{"id":24,"age":905,"weight":63000},{"id":24,"age":1000,"weight":65000},{"id":24,"age":1055,"weight":72500},{"id":24,"age":1082,"weight":84500},{"id":24,"age":1090,"weight":95000},{"id":24,"age":1098,"weight":80500},{"id":24,"age":1125,"weight":70900},{"id":24,"age":1180,"weight":66000},{"id":24,"age":1270,"weight":70000},{"id":24,"age":1365,"weight":72000},{"id":24,"age":1420,"weight":79800},{"id":24,"age":1447,"weight":92200},{"id":24,"age":1455,"weight":103000},{"id":24,"age":1463,"weight":88500},{"id":24,"age":1490,"weight":78900},{"id":24,"age":1545,"weight":74000},{"id":24,"age":1640,"weight":70000},{"id":24,"age":1720,"weight":66000},{"id":24,"age":1780,"weight":63000},
{"id":25,"age":0,"weight":3000},{"id":25,"age":60,"weight":15000},{"id":25,"age":120,"weight":25000},{"id":25,"age":180,"weight":34000},{"id":25,"age":240,"weight":42000},{"id":25,"age":300,"weight":49000},{"id":25,"age":340,"weight":54000},{"id":25,"age":357,"weight":57600},{"id":25,"age":365,"weight":60000},{"id":25,"age":373,"weight":52000},{"id":25,"age":395,"weight":46400},{"id":25,"age":435,"weight":44000},{"id":25,"age":540,"weight":49000},{"id":25,"age":640,"weight":52000},{"id":25,"age":695,"weight":57300},{"id":25,"age":722,"weight":65700},{"id":25,"age":730,"weight":73000},{"id":25,"age":738,"weight":63000},{"id":25,"age":765,"weight":56400},{"id":25,"age":820,"weight":53000},{"id":25,"age":910,"weight":55000},{"id":25,"age":1005,"weight":57000},{"id":25,"age":1060,"weight":64000},{"id":25,"age":1087,"weight":75200},{"id":25,"age":1095,"weight":85000},{"id":25,"age":1103,"weight":68500},{"id":25,"age":1130,"weight":57600},{"id":25,"age":1185,"weight":52000},{"id":25,"age":1275,"weight":51000},{"id":25,"age":1370,"weight":53000},{"id":25,"age":1425,"weight":62800},{"id":25,"age":1452,"weight":78400},{"id":25,"age":1460,"weight":92000},{"id":25,"age":1468,"weight":73000},{"id":25,"age":1495,"weight":60500},{"id":25,"age":1550,"weight":54000},{"id":25,"age":1640,"weight":56000},{"id":25,"age":1700,"weight":57000},
{"id":26,"age":0,"weight":4500},{"id":26,"age":60,"weight":20000},{"id":26,"age":120,"weight":30000},{"id":26,"age":180,"weight":39000},{"id":26,"age":240,"weight":46000},{"id":26,"age":300,"weight":53000},{"id":26,"age":331,"weight":59300},{"id":26,"age":348,"weight":63900},{"id":26,"age":356,"weight":67000},{"id":26,"age":364,"weight":58500},{"id":26,"age":386,"weight":52600},{"id":26,"age":426,"weight":50000},{"id":26,"age":540,"weight":55000},{"id":26,"age":631,"weight":58000},{"id":26,"age":686,"weight":64300},{"id":26,"age":713,"weight":74300},{"id":26,"age":721,"weight":83000},{"id":26,"age":729,"weight":72000},{"id":26,"age":756,"weight":64700},{"id":26,"age":811,"weight":61000},{"id":26,"age":901,"weight":64000},{"id":26,"age":997,"weight":66000},{"id":26,"age":1052,"weight":73500},{"id":26,"age":1079,"weight":85500},{"id":26,"age":1087,"weight":96000},{"id":26,"age":1095,"weight":81500},{"id":26,"age":1122,"weight":71900},{"id":26,"age":1177,"weight":67000},{"id":26,"age":1267,"weight":71000},{"id":26,"age":1362,"weight":73000},{"id":26,"age":1417,"weight":82300},{"id":26,"age":1444,"weight":97000},{"id":26,"age":1452,"weight":110000},{"id":26,"age":1460,"weight":94500},{"id":26,"age":1487,"weight":84300},{"id":26,"age":1542,"weight":79000},{"id":26,"age":1632,"weight":82000},{"id":26,"age":1730,"weight":84000},{"id":26,"age":1785,"weight":89500},{"id":26,"age":1812,"weight":98300},{"id":26,"age":1820,"weight":106000},{"id":26,"age":1828,"weight":80000},{"id":26,"age":1880,"weight":72000},{"id":26,"age":1950,"weight":66000},{"id":26,"age":2000,"weight":64000},
{"id":27,"age":0,"weight":3500},{"id":27,"age":60,"weight":17000},{"id":27,"age":120,"weight":27000},{"id":27,"age":180,"weight":36000},{"id":27,"age":240,"weight":44000},{"id":27,"age":300,"weight":51000},{"id":27,"age":335,"weight":57300},{"id":27,"age":352,"weight":61900},{"id":27,"age":360,"weight":65000},{"id":27,"age":368,"weight":57000},{"id":27,"age":390,"weight":51400},{"id":27,"age":430,"weight":49000},{"id":27,"age":540,"weight":54000},{"id":27,"age":634,"weight":57000},{"id":27,"age":689,"weight":63800},{"id":27,"age":716,"weight":74600},{"id":27,"age":724,"weight":84000},{"id":27,"age":732,"weight":73000},{"id":27,"age":759,"weight":65700},{"id":27,"age":814,"weight":62000},{"id":27,"age":904,"weight":66000},{"id":27,"age":1000,"weight":68000},{"id":27,"age":1055,"weight":75300},{"id":27,"age":1082,"weight":86900},{"id":27,"age":1090,"weight":97000},{"id":27,"age":1098,"weight":80500},{"id":27,"age":1125,"weight":69600},{"id":27,"age":1180,"weight":64000},{"id":27,"age":1270,"weight":67000},{"id":27,"age":1364,"weight":70000},{"id":27,"age":1419,"weight":77500},{"id":27,"age":1446,"weight":89500},{"id":27,"age":1454,"weight":100000},{"id":27,"age":1462,"weight":86500},{"id":27,"age":1489,"weight":77600},{"id":27,"age":1544,"weight":73000},{"id":27,"age":1634,"weight":76000},{"id":27,"age":1728,"weight":79000},{"id":27,"age":1783,"weight":85000},{"id":27,"age":1810,"weight":94600},{"id":27,"age":1818,"weight":103000},{"id":27,"age":1826,"weight":76000},{"id":27,"age":1880,"weight":73000},{"id":27,"age":1950,"weight":70000},{"id":27,"age":2000,"weight":69000},
{"id":28,"age":0,"weight":4500},{"id":28,"age":60,"weight":19000},{"id":28,"age":120,"weight":28000},{"id":28,"age":180,"weight":37000},{"id":28,"age":240,"weight":44000},{"id":28,"age":300,"weight":52000},{"id":28,"age":340,"weight":60000},{"id":28,"age":370,"weight":67000},{"id":28,"age":380,"weight":73000},{"id":28,"age":383,"weight":55000},{"id":28,"age":400,"weight":50000},{"id":28,"age":440,"weight":48000},{"id":28,"age":540,"weight":52000},{"id":28,"age":635,"weight":55000},{"id":28,"age":690,"weight":60500},{"id":28,"age":717,"weight":69300},{"id":28,"age":725,"weight":77000},{"id":28,"age":733,"weight":67500},{"id":28,"age":760,"weight":61200},{"id":28,"age":815,"weight":58000},{"id":28,"age":905,"weight":62000},{"id":28,"age":1000,"weight":64000},{"id":28,"age":1055,"weight":71300},{"id":28,"age":1082,"weight":82900},{"id":28,"age":1090,"weight":93000},{"id":28,"age":1098,"weight":78000},{"id":28,"age":1125,"weight":68100},{"id":28,"age":1180,"weight":63000},{"id":28,"age":1270,"weight":66000},{"id":28,"age":1300,"weight":66500},
{"id":29,"age":0,"weight":4000},{"id":29,"age":60,"weight":19000},{"id":29,"age":120,"weight":29000},{"id":29,"age":180,"weight":38000},{"id":29,"age":240,"weight":46000},{"id":29,"age":300,"weight":54000},{"id":29,"age":333,"weight":60300},{"id":29,"age":350,"weight":64900},{"id":29,"age":358,"weight":68000},{"id":29,"age":366,"weight":59500},{"id":29,"age":388,"weight":53600},{"id":29,"age":428,"weight":51000},{"id":29,"age":540,"weight":56000},{"id":29,"age":636,"weight":59000},{"id":29,"age":691,"weight":65800},{"id":29,"age":718,"weight":76600},{"id":29,"age":726,"weight":86000},{"id":29,"age":734,"weight":74500},{"id":29,"age":761,"weight":66900},{"id":29,"age":816,"weight":63000},{"id":29,"age":906,"weight":66000},{"id":29,"age":999,"weight":67000},{"id":29,"age":1054,"weight":74800},{"id":29,"age":1081,"weight":87200},{"id":29,"age":1089,"weight":98000},{"id":29,"age":1097,"weight":83000},{"id":29,"age":1124,"weight":73100},{"id":29,"age":1179,"weight":68000},{"id":29,"age":1269,"weight":72000},{"id":29,"age":1365,"weight":74000},{"id":29,"age":1420,"weight":81800},{"id":29,"age":1447,"weight":94200},{"id":29,"age":1455,"weight":105000},{"id":29,"age":1463,"weight":91000},{"id":29,"age":1490,"weight":81800},{"id":29,"age":1545,"weight":77000},{"id":29,"age":1640,"weight":80000},{"id":29,"age":1720,"weight":78000},{"id":29,"age":1780,"weight":76000},
{"id":30,"age":0,"weight":5000},{"id":30,"age":60,"weight":19000},{"id":30,"age":120,"weight":28000},{"id":30,"age":180,"weight":37000},{"id":30,"age":240,"weight":45000},{"id":30,"age":300,"weight":52000},{"id":30,"age":337,"weight":58300},{"id":30,"age":354,"weight":62900},{"id":30,"age":362,"weight":66000},{"id":30,"age":370,"weight":57000},{"id":30,"age":392,"weight":50700},{"id":30,"age":432,"weight":48000},{"id":30,"age":540,"weight":53000},{"id":30,"age":637,"weight":56000},{"id":30,"age":692,"weight":62000},{"id":30,"age":719,"weight":71600},{"id":30,"age":727,"weight":80000},{"id":30,"age":735,"weight":69000},{"id":30,"age":762,"weight":61700},{"id":30,"age":817,"weight":58000},{"id":30,"age":907,"weight":61000},{"id":30,"age":1001,"weight":63000},{"id":30,"age":1056,"weight":70500},{"id":30,"age":1083,"weight":82500},{"id":30,"age":1091,"weight":93000},{"id":30,"age":1099,"weight":77000},{"id":30,"age":1126,"weight":66400},{"id":30,"age":1181,"weight":61000},{"id":30,"age":1271,"weight":65000},{"id":30,"age":1366,"weight":68000},{"id":30,"age":1421,"weight":76300},{"id":30,"age":1448,"weight":89500},{"id":30,"age":1456,"weight":101000},{"id":30,"age":1464,"weight":86000},{"id":30,"age":1491,"weight":76100},{"id":30,"age":1546,"weight":71000},{"id":30,"age":1636,"weight":75000},{"id":30,"age":1732,"weight":78000},{"id":30,"age":1787,"weight":83500},{"id":30,"age":1814,"weight":92300},{"id":30,"age":1822,"weight":100000},{"id":30,"age":1830,"weight":75000},{"id":30,"age":1870,"weight":71000},{"id":30,"age":1950,"weight":67000}
]},
"mark": {"type": "line", "interpolate": "monotone", "strokeWidth": 1, "color": "#666666"},
"encoding": {
"x": {"field": "age", "type": "quantitative", "scale": {"domain": [0, 3000], "nice": false},
 "axis": {"title": "age (d)", "values": [0, 500, 1000, 1500, 2000, 2500, 3000], "format": "d", "grid": false,
  "domainColor": "#444444", "domainWidth": 2, "tickColor": "#444444", "tickWidth": 2, "tickSize": 14,
  "labelFont": "DejaVu Sans", "labelFontSize": 27, "labelColor": "black", "labelPadding": 3, "labelFlush": false, "labelOverlap": false,
  "titleFont": "DejaVu Sans", "titleFontSize": 38, "titleFontWeight": "normal", "titleColor": "black", "titlePadding": 18}},
"y": {"field": "weight", "type": "quantitative", "scale": {"domain": [0, 120000], "nice": false},
 "axis": {"title": "Weight (g)", "values": [0, 10000, 20000, 30000, 40000, 50000, 60000, 70000, 80000, 90000, 100000, 110000, 120000], "format": "d",
  "labelExpr": "datum.value % 20000 === 0 ? datum.label : ''", "grid": false,
  "domainColor": "#444444", "domainWidth": 2, "tickColor": "#444444", "tickWidth": 2,
  "tickSize": {"condition": {"test": "datum.value % 20000 === 0", "value": 21}, "value": 14},
  "labelFont": "DejaVu Sans", "labelFontSize": 27, "labelColor": "black", "labelPadding": 5, "labelOverlap": false,
  "titleFont": "DejaVu Sans", "titleFontSize": 38, "titleFontWeight": "normal", "titleColor": "black", "titlePadding": 27}},
"detail": {"field": "id", "type": "nominal"}
}
}
